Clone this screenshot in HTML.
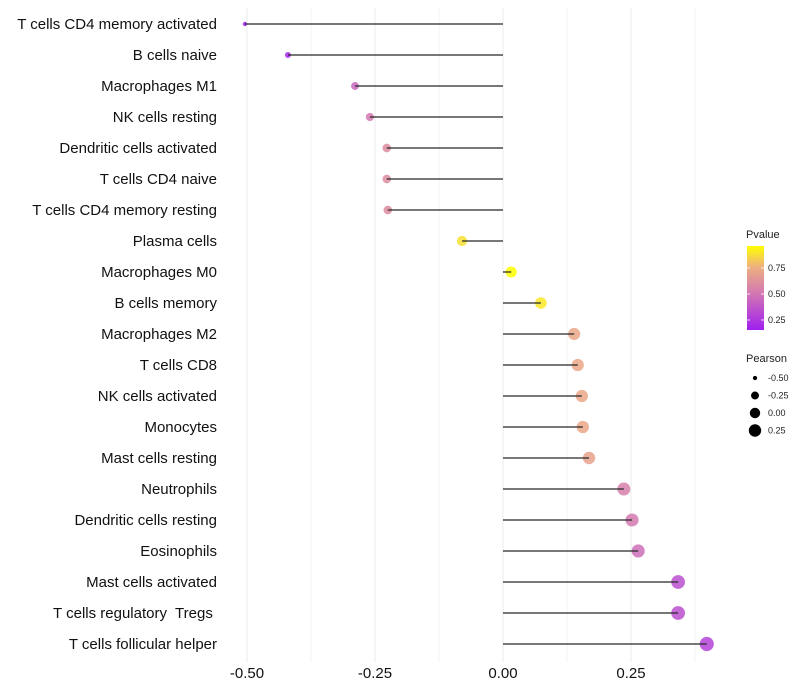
<!DOCTYPE html>
<html><head><meta charset="utf-8"><style>
body{margin:0;background:#fff;}
svg{font-family:"Liberation Sans",sans-serif;display:block;}
text{white-space:pre;}
</style></head><body>
<svg id="chart" width="800" height="700">
<defs><linearGradient id="pgrad" x1="0" y1="1" x2="0" y2="0">
<stop offset="0" stop-color="#a020f0"/><stop offset="0.45" stop-color="#d47ab0"/><stop offset="0.75" stop-color="#eeb080"/><stop offset="1" stop-color="#ffff00"/></linearGradient></defs>
<g id="grid"></g>
<g id="marks"></g>
<g id="ylabels"></g>
<g id="xlabels"></g>
<g>
<text x="746" y="238" font-size="11" fill="#222">Pvalue</text>
<rect x="747" y="246" width="17" height="84" fill="url(#pgrad)"/>
<g id="cbticks"></g>
</g>
<g id="sizeleg">
<text x="746" y="362" font-size="11" fill="#222">Pearson</text>
</g>
</svg>
<script>
const categories=["T cells CD4 memory activated","B cells naive","Macrophages M1","NK cells resting","Dendritic cells activated","T cells CD4 naive","T cells CD4 memory resting","Plasma cells","Macrophages M0","B cells memory","Macrophages M2","T cells CD8","NK cells activated","Monocytes","Mast cells resting","Neutrophils","Dendritic cells resting","Eosinophils","Mast cells activated","T cells regulatory  Tregs ","T cells follicular helper"];
const pearson=[-0.504,-0.42,-0.289,-0.26,-0.227,-0.227,-0.225,-0.08,0.016,0.074,0.139,0.146,0.154,0.156,0.168,0.236,0.252,0.264,0.342,0.342,0.398];
const pvalue=[0.12,0.2,0.45,0.52,0.6,0.6,0.6,0.88,1.0,0.9,0.72,0.72,0.72,0.72,0.7,0.55,0.52,0.48,0.35,0.35,0.3];
const xTicks=[-0.5,-0.25,0,0.25];
const xTickLabels=["-0.50","-0.25","0.00","0.25"];
const cbTicks=[0.25,0.5,0.75];
const sizeLegend=[-0.5,-0.25,0,0.25];
const sizeLegendLabels=["-0.50","-0.25","0.00","0.25"];
const NS="http://www.w3.org/2000/svg";
const X=v=>503+v*512;
const Y=i=>24+i*31;
const R=v=>Math.sqrt(5+50*(v+0.5));
function col(p){
 const st=[[0,[160,32,240]],[0.45,[212,122,176]],[0.75,[238,176,128]],[1,[255,255,0]]];
 const t=Math.max(0,Math.min(1,(p-0.165)/(0.96-0.165)));
 for(let k=1;k<st.length;k++){if(t<=st[k][0]){const a=st[k-1],b=st[k],f=(t-a[0])/(b[0]-a[0]);return 'rgb('+a[1].map((c,j)=>Math.round(c+(b[1][j]-c)*f)).join(',')+')';}}
 return 'rgb(255,255,0)';
}
function mk(tag,attrs,parent){const e=document.createElementNS(NS,tag);for(const k in attrs)e.setAttribute(k,attrs[k]);parent.appendChild(e);return e;}
const grid=document.getElementById('grid'),marks=document.getElementById('marks'),yl=document.getElementById('ylabels'),xl=document.getElementById('xlabels');
for(let v=-0.5;v<=0.376;v+=0.125){const l=mk('line',{x1:X(v),x2:X(v),y1:8,y2:662,stroke:'#ebebeb','stroke-width':Math.abs((v*4)%1)<1e-6?1:0.6},grid);

}
xTicks.forEach((v,i)=>{const t=mk('text',{x:X(v),y:678,'font-size':15,'text-anchor':'middle',fill:'#111'},xl);t.textContent=xTickLabels[i];

});
categories.forEach((c,i)=>{
 const t=mk('text',{x:217,y:Y(i)+5,'font-size':15,'text-anchor':'end',fill:'#111'},yl);t.textContent=c;
 
 
 const d=mk('circle',{cx:X(pearson[i]),cy:Y(i),r:R(pearson[i]),fill:col(pvalue[i]),'fill-opacity':0.85},marks);
 
 
 const s=mk('line',{x1:X(0),x2:X(pearson[i]),y1:Y(i),y2:Y(i),stroke:'#2a2a2a','stroke-width':1.5,'stroke-opacity':0.85},marks);
 
 
});
const cb=document.getElementById('cbticks');
cbTicks.forEach(p=>{const y=346-104*p;
 const a=mk('line',{x1:747,x2:750,y1:y,y2:y,stroke:'#fff','stroke-width':0.8},cb);
 const b=mk('line',{x1:761,x2:764,y1:y,y2:y,stroke:'#fff','stroke-width':0.8},cb);
 const t=mk('text',{x:768,y:y+3,'font-size':9,fill:'#222'},cb);t.textContent=p.toFixed(2);
 
 });
const sl=document.getElementById('sizeleg');
sizeLegend.forEach((v,i)=>{const y=378+i*17.5;
 const c=mk('circle',{cx:755,cy:y,r:R(v)*0.95,fill:'#000'},sl);
 const t=mk('text',{x:768,y:y+3,'font-size':9,fill:'#222'},sl);t.textContent=sizeLegendLabels[i];
 
 });
</script>
</body></html>
